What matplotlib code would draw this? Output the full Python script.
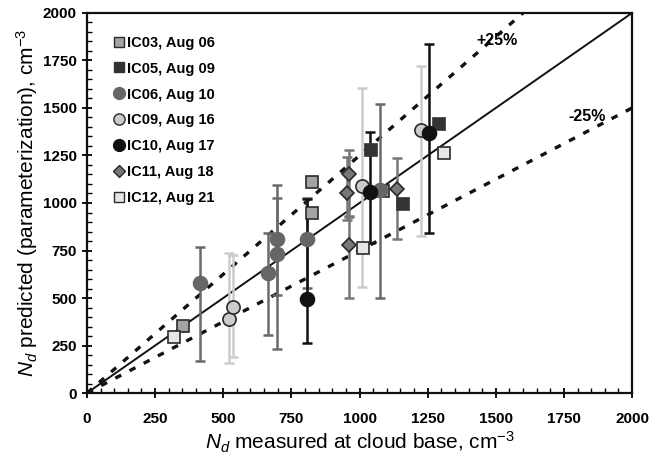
import numpy as np
import matplotlib.pyplot as plt
from matplotlib.lines import Line2D
from matplotlib.ticker import MultipleLocator

plt.rcParams['font.family'] = ['Liberation Sans', 'DejaVu Sans']
plt.rcParams['mathtext.fontset'] = 'custom'
plt.rcParams['mathtext.rm'] = 'Liberation Sans'
plt.rcParams['mathtext.it'] = 'Liberation Sans:italic'

# measured x, predicted y, error bar top / bottom
ic03_x = [353, 824, 824, 1087]
ic03_y = [354, 1112, 946, 1063]

ic05_x = [1042, 1158, 1290]
ic05_y = [1279, 993, 1416]

ic06_x = [415, 665, 698, 698, 806, 1075]
ic06_y = [577, 633, 730, 810, 809, 1068]
ic06_hi = [767, 844, 1025, 1093, 1025, 1521]
ic06_lo = [168, 305, 516, 230, 551, 502]

ic09_x = [522, 537, 1008, 1224]
ic09_y = [391, 454, 1089, 1384]
ic09_hi = [735, 726, 1604, 1723]
ic09_lo = [159, 191, 559, 826]

ic10_x = [808, 1039, 1256]
ic10_y = [493, 1059, 1367]
ic10_hi = [1021, 1372, 1837]
ic10_lo = [261, 790, 840]

ic11_x = [963, 953, 961, 1139]
ic11_y = [1153, 1054, 779, 1074]
ic11_hi = [1279, 1240, 932, 1238]
ic11_lo = [928, 910, 498, 809]

ic12_x = [320, 1014, 1310]
ic12_y = [296, 765, 1265]

labels = ['IC03, Aug 06', 'IC05, Aug 09', 'IC06, Aug 10', 'IC09, Aug 16',
          'IC10, Aug 17', 'IC11, Aug 18', 'IC12, Aug 21']

fig = plt.figure(figsize=(6.6, 4.57), dpi=100)
ax = fig.add_axes([0.1318, 0.140, 0.8258, 0.8316])

# reference lines
xl = np.array([0, 2000])
ax.plot(xl, xl, color='#111111', lw=1.4, zorder=2)
ax.plot([0, 1600], [0, 2000], color='#111111', lw=2.4, dashes=(2.0, 2.8), zorder=2)
ax.plot([0, 2000], [0, 1500], color='#111111', lw=2.4, dashes=(2.0, 2.8), zorder=2)
ax.text(1503, 1854, '+25%', fontsize=11.5, fontweight='bold', ha='center', va='center')
ax.text(1834, 1454, '-25%', fontsize=11.5, fontweight='bold', ha='center', va='center')


def bars(x, y, hi, lo, color, lw=1.8):
    y = np.array(y, float)
    err = np.vstack([y - np.array(lo, float), np.array(hi, float) - y])
    ax.errorbar(x, y, yerr=err, fmt='none', ecolor=color, elinewidth=lw,
                capsize=3.5, capthick=lw, zorder=3)


bars(ic06_x, ic06_y, ic06_hi, ic06_lo, '#6a6a6a')
bars(ic09_x, ic09_y, ic09_hi, ic09_lo, '#cccccc')
bars(ic11_x, ic11_y, ic11_hi, ic11_lo, '#777777')
bars(ic10_x, ic10_y, ic10_hi, ic10_lo, '#111111')

styles = [
    (ic03_x, ic03_y, 's', '#a3a3a3', '#2a2a2a', 9),
    (ic05_x, ic05_y, 's', '#333333', '#333333', 8),
    (ic06_x, ic06_y, 'o', '#666666', '#666666', 10),
    (ic09_x, ic09_y, 'o', '#cccccc', '#2a2a2a', 9.5),
    (ic10_x, ic10_y, 'o', '#111111', '#111111', 10),
    (ic11_x, ic11_y, 'D', '#777777', '#2a2a2a', 7.5),
    (ic12_x, ic12_y, 's', '#e6e6e6', '#2a2a2a', 9),
]
handles = []
for (x, y, m, fc, ec, ms), lab in zip(styles, labels):
    ax.plot(x, y, linestyle='none', marker=m, markersize=ms, markerfacecolor=fc,
            markeredgecolor=ec, markeredgewidth=1.2, zorder=4)
    handles.append(Line2D([], [], linestyle='none', marker=m, markersize=ms * 0.85,
                          markerfacecolor=fc, markeredgecolor=ec, markeredgewidth=1.0,
                          label=lab))

leg = ax.legend(handles=handles, loc='upper left', bbox_to_anchor=(0.018, 0.975),
                frameon=False, handletextpad=0.0, labelspacing=0.82,
                handlelength=1.2, prop={'weight': 'bold', 'size': 10.5})

ax.set_xlim(0, 2000)
ax.set_ylim(0, 2000)
ax.xaxis.set_major_locator(MultipleLocator(250))
ax.yaxis.set_major_locator(MultipleLocator(250))
ax.xaxis.set_minor_locator(MultipleLocator(50))
ax.yaxis.set_minor_locator(MultipleLocator(50))
ax.tick_params(which='major', direction='inout', length=7, width=1.3, labelsize=11)
ax.tick_params(which='minor', direction='in', length=3.5, width=1.0)
for lab in ax.get_xticklabels() + ax.get_yticklabels():
    lab.set_fontweight('bold')
ax.tick_params(axis='x', pad=10)
ax.tick_params(axis='y', pad=4)
for sp in ax.spines.values():
    sp.set_linewidth(1.6)
    sp.set_color('#111111')

ax.set_xlabel(r'$N_d$ measured at cloud base, cm$^{\mathregular{-3}}$', fontsize=15, labelpad=3)
ax.set_ylabel(r'$N_d$ predicted (parameterization), cm$^{\mathregular{-3}}$', fontsize=15, labelpad=2)

fig.savefig('out.png', dpi=100)
